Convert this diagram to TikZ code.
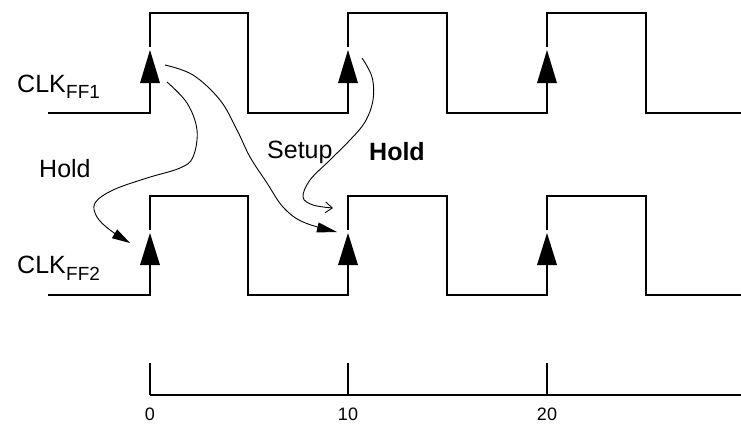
\documentclass[tikz,border=0pt]{standalone}
\usepackage{fontspec}
\setmainfont{Liberation Sans}
\usetikzlibrary{arrows.meta}
\begin{document}
\begin{tikzpicture}[x=1pt,y=-1pt,
  wave/.style={line width=2.8pt, line join=miter},
  edgetip/.style={fill=black},
  curve/.style={line width=0.9pt},
  axisline/.style={line width=1.6pt},
  lbl/.style={inner sep=0pt, anchor=base west, font=\fontsize{25}{30}\selectfont},
  sub/.style={inner sep=0pt, anchor=base west, font=\fontsize{19}{22}\selectfont},
  num/.style={inner sep=0pt, anchor=north, font=\fontsize{18}{21}\selectfont}]
\useasboundingbox (0,0) rectangle (741,424);

% ---- CLK_FF1 waveform (high 13, low 113) ----
\draw[wave] (48,113) -- (150,113) -- (150,83);
\draw[wave] (150,47) -- (150,13) -- (248,13) -- (248,113) -- (348,113) -- (348,83);
\draw[wave] (348,47) -- (348,13) -- (447,13) -- (447,113) -- (547,113) -- (547,83);
\draw[wave] (547,47) -- (547,13) -- (646,13) -- (646,113) -- (741,113);
\foreach \x in {150,348,547}
  \fill[edgetip] (\x-10,83) -- (\x+10,83) -- (\x,50) -- cycle;

% ---- CLK_FF2 waveform (high 196, low 295) ----
\draw[wave] (48,295) -- (150,295) -- (150,265);
\draw[wave] (150,230) -- (150,196) -- (248,196) -- (248,295) -- (348,295) -- (348,265);
\draw[wave] (348,230) -- (348,196) -- (447,196) -- (447,295) -- (547,295) -- (547,265);
\draw[wave] (547,230) -- (547,196) -- (646,196) -- (646,295) -- (741,295);
\foreach \x in {150,348,547}
  \fill[edgetip] (\x-10,265) -- (\x+10,265) -- (\x,233) -- cycle;

% ---- labels ----
\node[lbl] (clk1) at (17,92) {CLK};
\node[sub] (ff1) at (clk1.base east) [yshift=-6pt] {FF1};
\node[lbl] (clk2) at (17,273) {CLK};
\node[sub] (ff2) at (clk2.base east) [yshift=-7pt] {FF2};
\node[lbl] (holdl) at (39,177) {Hold};
\node[lbl] (setup) at (267,158) {Setup};
\node[lbl, font=\fontsize{25}{30}\selectfont\bfseries] (holdr) at (369,160) {Hold};

% ---- curved arrows ----
\coordinate (c1s) at (167,82);
\coordinate (c1e) at (130,243);
\coordinate (c2s) at (165,65);
\coordinate (c2e) at (337,232);
\coordinate (c3s) at (362,58);
\coordinate (c3e) at (333,208);
\draw[curve, -{Triangle[length=18pt,width=10pt]}] plot[smooth, tension=0.6] coordinates
  {(c1s) (187,103) (197,130) (193,157) (180,168) (147,178) (113,190) (95,203) (97,217) (110,230) (c1e)};
\draw[curve, -{Triangle[length=20pt,width=10pt]}] plot[smooth, tension=0.6] coordinates
  {(c2s) (193,75) (220,100) (237,130) (250,157) (267,183) (283,207) (303,222) (c2e)};
\draw[curve, -{Straight Barb[length=7pt,width=11pt]}] plot[smooth, tension=0.6] coordinates
  {(c3s) (372,77) (373,100) (365,122) (350,140) (330,160) (310,180) (303,197) (313,205) (c3e)};

% ---- time axis ----
\coordinate (t0) at (150,395);
\coordinate (t10) at (348,395);
\coordinate (t20) at (547,395);
\coordinate (tend) at (741,395);
\draw[axisline] (t0) -- (tend);
\foreach \c in {t0,t10,t20}
  \draw[axisline] (\c) -- ++(0,-32);
\node[num] (n0) at (150,408) {0};
\node[num] (n10) at (348,408) {10};
\node[num] (n20) at (547,408) {20};
\end{tikzpicture}
\end{document}
